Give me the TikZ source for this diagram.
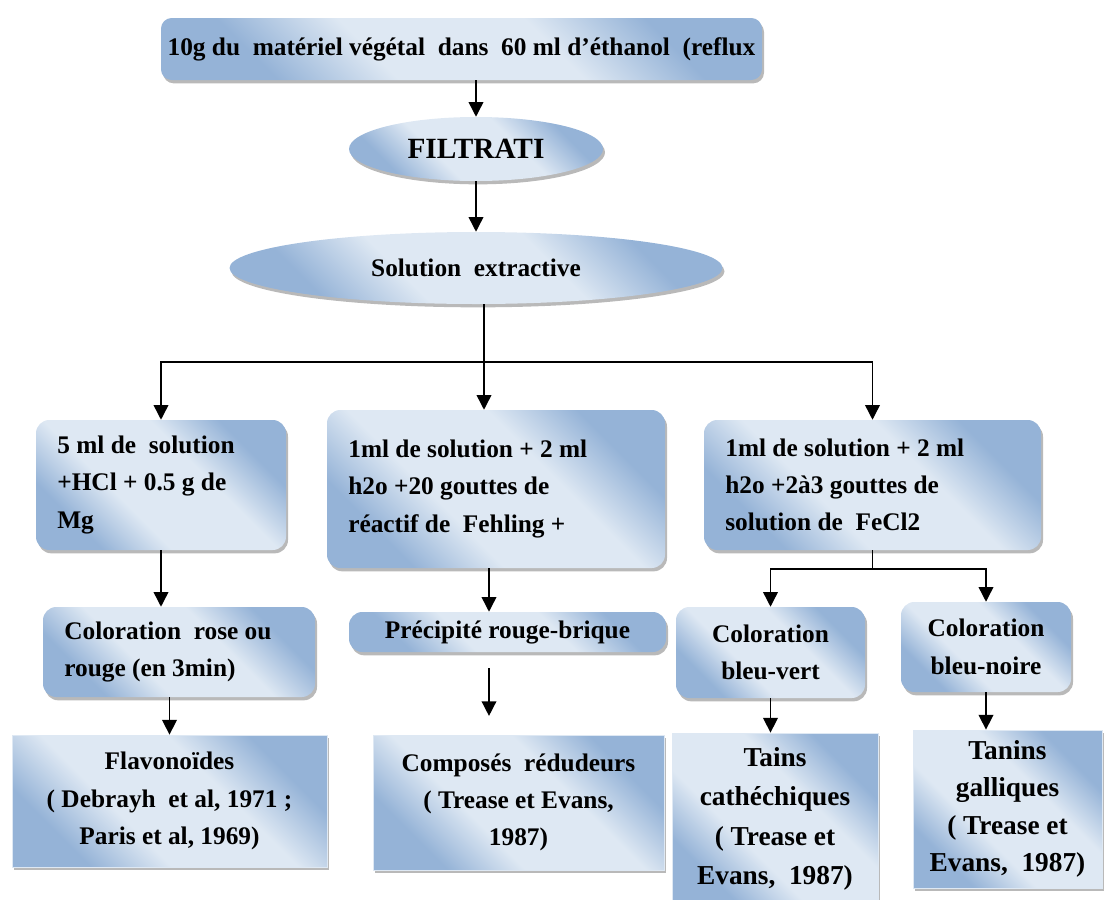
\documentclass[tikz,border=0pt]{standalone}
\usepackage{fontspec}
\setmainfont{Liberation Serif}
\usetikzlibrary{shapes.geometric,shadows,arrows.meta}

\definecolor{blight}{RGB}{222,232,243}
\definecolor{bdark}{RGB}{149,179,215}
\pgfdeclarehorizontalshading{sheen}{100bp}{color(0bp)=(bdark); color(27bp)=(bdark); color(40bp)=(blight); color(60bp)=(blight); color(73bp)=(bdark); color(100bp)=(bdark)}

\tikzset{
  card/.style={shade, shading=sheen, shading angle=45, inner sep=0pt,
    drop shadow={shadow xshift=1.5pt, shadow yshift=-2.5pt, fill=black!55, opacity=.5},
    font=\fontsize{19}{28}\selectfont\bfseries},
  stepbox/.style={card, rectangle, rounded corners=10pt, align=center},
  leftstep/.style={stepbox, align=flush left, inner xsep=16pt},
  resbox/.style={card, rectangle, draw=blight, line width=.6pt, align=center},
  oval/.style={card, ellipse, align=center},
  arr/.style={-{Triangle[width=11pt,length=11pt]}, line width=1.1pt},
}

\begin{document}
\begin{tikzpicture}[x=0.75pt, y=-0.75pt]
  \useasboundingbox (0,0) rectangle (1111,900);

  % extraction
  \node[stepbox, rounded corners=8pt, minimum width=450.75pt, minimum height=46.5pt] (start) at (461.5,49) {10g du \ matériel végétal \ dans \ 60 ml d’éthanol \ (reflux};
  \node[oval, minimum width=190.5pt, minimum height=48pt, font=\fontsize{22}{26}\selectfont\bfseries] (filtrat) at (476,149) {FILTRATI};
  \node[oval, minimum width=369.75pt, minimum height=54pt] (extrait) at (476,268) {Solution \ extractive};

  % tests
  \node[leftstep, text width=155.5pt, minimum height=97.5pt] (mg) at (161,485) {5 ml de \ solution\\+HCl + 0.5 g de\\Mg};
  \node[leftstep, text width=221.5pt, minimum height=118.5pt] (fehling) at (496,489) {1ml de solution + 2 ml\\h2o +20 gouttes de\\réactif de \ Fehling +};
  \node[leftstep, text width=220.75pt, minimum height=97.5pt] (fecl) at (872.5,485) {1ml de solution + 2 ml\\h2o +2à3 gouttes de\\solution de \ FeCl2};

  % colorations
  \node[leftstep, text width=172pt, minimum height=67.5pt] (rose) at (179,652) {Coloration \ rose ou\\rouge (en 3min)};
  \node[stepbox, minimum width=237.75pt, minimum height=30pt] (brique) at (507.5,632) {Précipité rouge-brique};
  \node[stepbox, minimum width=141.75pt, minimum height=68.25pt] (vert) at (770.5,652.5) {Coloration\\bleu-vert};
  \node[stepbox, minimum width=127.5pt, minimum height=67.5pt] (noire) at (986,647) {Coloration\\bleu-noire};

  % resultats
  \node[resbox, minimum width=236.25pt, minimum height=99pt] (flavo) at (169.5,801) {Flavonoïdes\\( Debrayh \ et al, 1971 ;\\Paris et al, 1969)};
  \node[resbox, minimum width=218.25pt, minimum height=101.25pt] (reduc) at (518.5,802.5) {Composés \ rédudeurs\\( Trease et Evans,\\1987)};
  \node[resbox, minimum width=154.5pt, minimum height=129pt, font=\fontsize{20.5}{29.5}\selectfont\bfseries] (cate) at (775,819) {Tains\\cathéchiques\\( Trease et\\Evans, \ 1987)};
  \node[resbox, minimum width=141.75pt, minimum height=118.5pt, font=\fontsize{20.5}{28}\selectfont\bfseries] (galli) at (1007.5,809) {Tanins\\galliques\\( Trease et\\Evans, \ 1987)};

  % fleches
  \draw[arr] (filtrat.north |- start.south) -- (filtrat.north);
  \draw[arr] (filtrat) -- (extrait);
  \coordinate (fork) at (484,362);
  \draw[line width=1.1pt] (fork |- extrait.south) -- (fork);
  \draw[arr] (fork) -| (mg);
  \draw[arr] (fork) -- (fork |- fehling.north);
  \draw[arr] (fork) -| (fecl);

  \coordinate (col) at (489,0);
  \draw[arr] (mg.south) -- (mg.south |- rose.north);
  \draw[arr] (fehling.south -| col) -- (brique.north -| col);
  \coordinate (fork2) at (fecl.south |- 0,569);
  \draw[line width=1.1pt] (fecl) -- (fork2);
  \draw[arr] (fork2) -| (vert);
  \draw[arr] (fork2) -| (noire);

  \draw[arr] (flavo.north |- rose.south) -- (flavo.north);
  \draw[arr, shorten <=12pt, shorten >=14pt] (brique.south -| col) -- (reduc.north -| col);
  \draw[arr] (vert.south) -- (vert.south |- cate.north);
  \draw[arr] (noire.south) -- (noire.south |- galli.north);
\end{tikzpicture}
\end{document}
